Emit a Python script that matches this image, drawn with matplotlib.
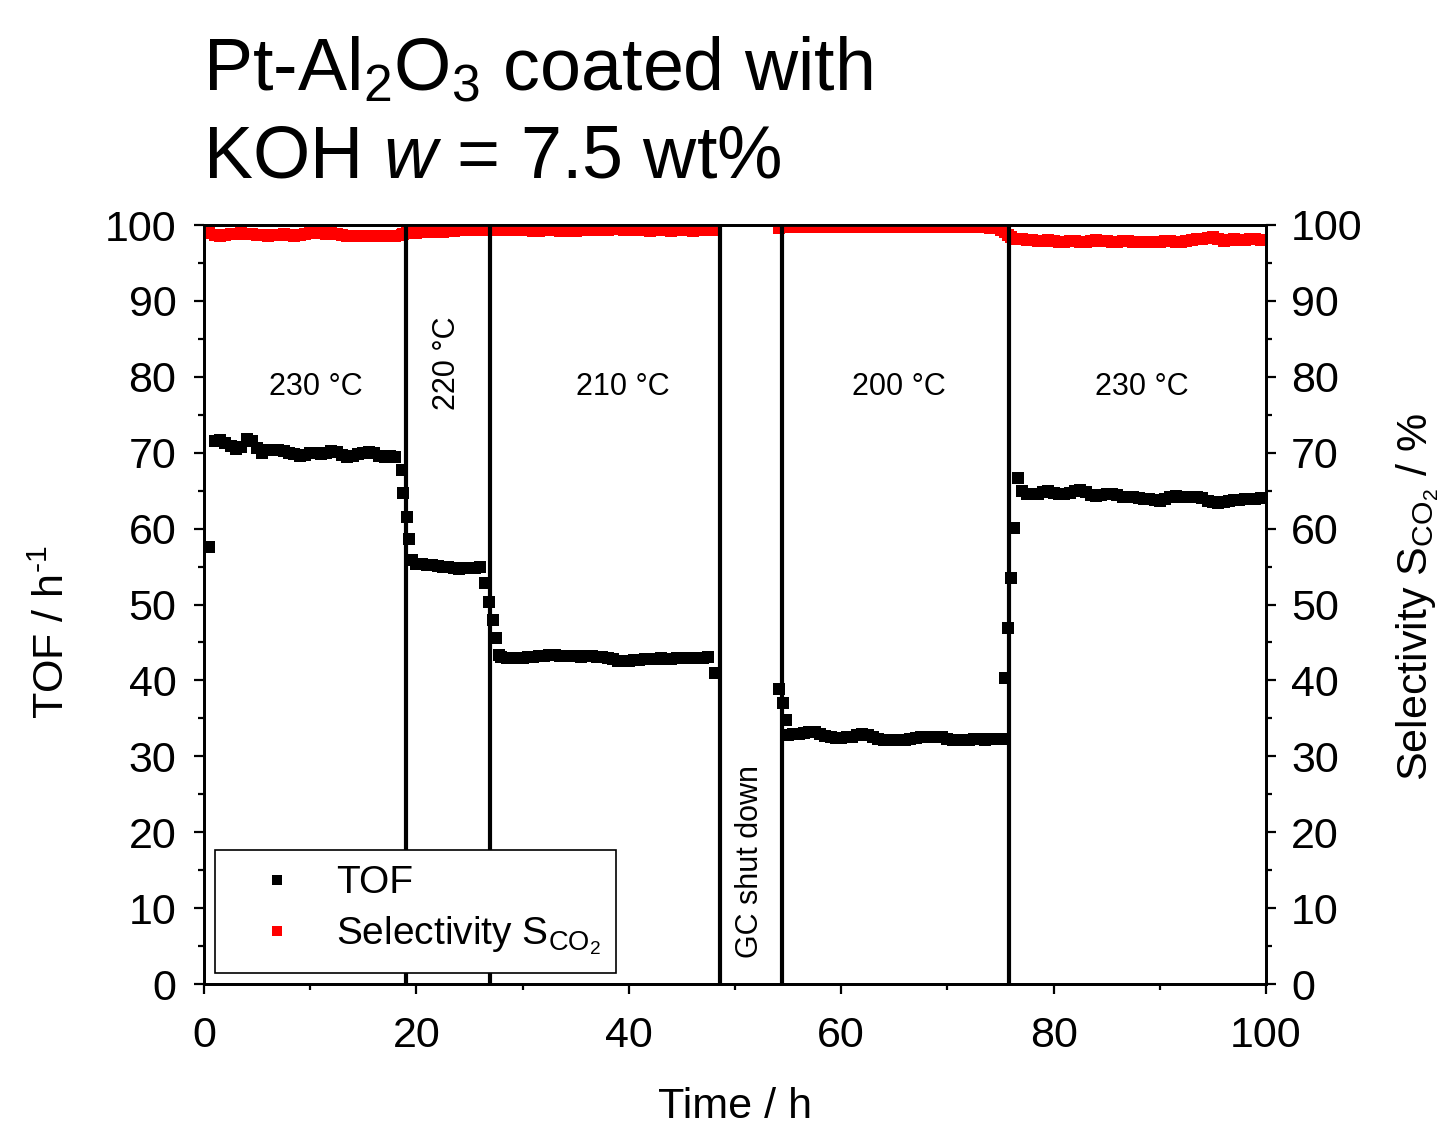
"""
TOF and CO2 selectivity over time for Pt-Al2O3 coated with KOH (w = 7.5 wt%)
"""

#imports
import numpy as np
import matplotlib
matplotlib.use("Agg")
import matplotlib.pyplot as plt

plt.rcParams['font.family'] = ['Liberation Sans', 'DejaVu Sans']
plt.rcParams['mathtext.fontset'] = 'custom'
plt.rcParams['mathtext.rm'] = 'Liberation Sans'
plt.rcParams['mathtext.it'] = 'Liberation Sans:italic'
plt.rcParams['mathtext.bf'] = 'Liberation Sans:bold'

#data (time in h, TOF in 1/h, selectivity in %)
#segment 1: 230 °C
time_1 = np.concatenate([[0.5], np.arange(1.0, 18.01, 0.5), [18.6, 18.7, 19.1, 19.3]])
tof_1 = [57.6,
         71.5, 71.7, 71.3, 70.9, 70.5, 70.8, 71.8, 71.5, 70.6, 70.0,
         70.3, 70.4, 70.3, 70.2, 70.0, 69.8, 69.6, 69.7, 70.0, 69.9,
         69.8, 70.0, 70.2, 70.1, 69.7, 69.5, 69.6, 69.8, 69.9, 70.1,
         70.0, 69.6, 69.4, 69.6, 69.5,
         67.7, 64.7, 61.5, 58.6]
sel_1 = [99.0,
         98.7, 98.6, 98.7, 98.8, 98.8, 98.9, 98.8, 98.8, 98.7, 98.7,
         98.6, 98.7, 98.7, 98.8, 98.7, 98.6, 98.7, 98.8, 98.9, 98.9,
         98.9, 98.8, 98.9, 98.8, 98.7, 98.6, 98.6, 98.5, 98.5, 98.6,
         98.5, 98.5, 98.5, 98.6, 98.5,
         98.7, 98.8, 98.9, 99.0]

#segment 2: 220 °C
time_2 = np.concatenate([[19.6], np.arange(20.0, 26.01, 0.5), [26.5, 26.8, 27.2, 27.5]])
tof_2 = [55.8,
         55.4, 55.3, 55.2, 55.2, 55.1, 55.0, 54.9, 54.8, 54.7, 54.8, 54.8, 54.8, 54.9,
         52.8, 50.3, 48.0, 45.6]
sel_2 = [99.1,
         99.0, 99.1, 99.1, 99.1, 99.2, 99.1, 99.2, 99.2, 99.3, 99.3, 99.4, 99.4, 99.4,
         99.4, 99.4, 99.3, 99.3]

#segment 3: 210 °C
time_3 = np.concatenate([[27.8], np.arange(28.0, 47.51, 0.5), [48.1]])
tof_3 = [43.4,
         43.1, 43.0, 42.9, 42.9, 43.0, 43.1, 43.1, 43.2, 43.2, 43.3,
         43.3, 43.2, 43.2, 43.2, 43.2, 43.1, 43.2, 43.2, 43.1, 43.1,
         43.0, 42.8, 42.6, 42.5, 42.6, 42.7, 42.7, 42.8, 42.8, 42.8,
         42.9, 42.8, 42.8, 42.9, 42.9, 42.9, 43.0, 42.9, 43.0, 43.1,
         41.0]
sel_3 = [99.3,
         99.3, 99.3, 99.4, 99.3, 99.3, 99.3, 99.2, 99.2, 99.3, 99.3,
         99.3, 99.2, 99.3, 99.2, 99.2, 99.3, 99.3, 99.3, 99.3, 99.4,
         99.4, 99.5, 99.6, 99.4, 99.3, 99.3, 99.3, 99.3, 99.2, 99.3,
         99.3, 99.3, 99.2, 99.3, 99.3, 99.3, 99.2, 99.3, 99.3, 99.3,
         99.3]

#segment 4: 200 °C (after GC shut down)
time_4 = np.concatenate([[54.1, 54.5, 54.8], np.arange(55.0, 75.01, 0.5)])
tof_4 = [38.9, 37.0, 34.8,
         32.8, 32.9, 33.0, 33.1, 33.2, 33.2, 33.0, 32.7, 32.5, 32.4,
         32.4, 32.5, 32.6, 32.8, 32.9, 32.8, 32.5, 32.3, 32.2, 32.2,
         32.1, 32.1, 32.2, 32.3, 32.4, 32.5, 32.6, 32.5, 32.6, 32.5,
         32.3, 32.1, 32.1, 32.1, 32.2, 32.3, 32.3, 32.2, 32.3, 32.3,
         32.3]
sel_4 = [99.6, 99.7, 99.7,
         99.8, 99.8, 99.7, 99.8, 99.8, 99.7, 99.7, 99.8, 99.8, 99.7,
         99.7, 99.8, 99.8, 99.7, 99.7, 99.8, 99.8, 99.7, 99.7, 99.8,
         99.8, 99.7, 99.7, 99.7, 99.8, 99.8, 99.7, 99.7, 99.8, 99.7,
         99.7, 99.8, 99.7, 99.7, 99.8, 99.7, 99.7, 99.7, 99.6, 99.6,
         99.4]

#segment 5: 230 °C
time_5 = np.concatenate([[75.4, 75.7, 76.0, 76.3, 76.6], np.arange(77.0, 99.51, 0.5)])
tof_5 = [40.3, 46.9, 53.5, 60.1, 66.7,
         65.0, 64.6, 64.5, 64.6, 64.8, 64.9, 64.7, 64.5, 64.5, 64.7,
         64.9, 65.1, 64.8, 64.4, 64.3, 64.4, 64.5, 64.5, 64.4, 64.2,
         64.1, 64.1, 64.0, 63.9, 63.9, 63.8, 63.7, 63.9, 64.2, 64.3,
         64.2, 64.1, 64.1, 64.1, 64.0, 63.7, 63.5, 63.4, 63.5, 63.7,
         63.8, 63.8, 63.9, 63.9, 63.9, 64.0]
sel_5 = [99.1, 98.7, 98.4, 98.2, 98.1,
         98.1, 98.0, 98.0, 97.9, 97.9, 98.0, 97.9, 97.8, 97.8, 97.9,
         97.9, 97.8, 97.8, 97.9, 98.0, 97.9, 97.9, 97.8, 97.8, 97.9,
         97.9, 97.8, 97.8, 97.8, 97.7, 97.8, 97.8, 97.9, 97.9, 97.8,
         97.8, 97.9, 98.0, 98.1, 98.2, 98.3, 98.4, 98.2, 97.9, 98.0,
         98.1, 98.0, 98.0, 98.1, 98.1, 98.0]

time_all = np.concatenate([time_1, time_2, time_3, time_4, time_5])
tof_all = np.concatenate([tof_1, tof_2, tof_3, tof_4, tof_5])
sel_all = np.concatenate([sel_1, sel_2, sel_3, sel_4, sel_5])

#temperature changes (vertical lines) and labels
change_times = [19.0, 26.9, 48.6, 54.4, 75.8]
temp_labels = ["230 °C", "220 °C", "210 °C", "200 °C", "230 °C"]
temp_label_x = [10.5, 22.9, 39.4, 65.4, 88.3]
temp_label_rot = [0, 90, 0, 0, 0]

#figure
fig = plt.figure(figsize=(14.4, 11.25), dpi=100)
ax = fig.add_axes([0.1417, 0.1253, 0.7375, 0.6747])
ax2 = ax.twinx()

#data
line_tof, = ax.plot(time_all, tof_all, linestyle="none", marker="s", markersize=9,
                    markeredgewidth=0, color="black", label="TOF", zorder=2)
line_sel, = ax2.plot(time_all, sel_all, linestyle="none", marker="s", markersize=9,
                     markeredgewidth=0, color="#ff0000", label=r"Selectivity S$_{\mathrm{CO_2}}$", zorder=2)

#vertical lines
for t in change_times:
    ax2.axvline(t, color="black", linewidth=3.0, zorder=3)

#temperature labels
for x, txt, rot in zip(temp_label_x, temp_labels, temp_label_rot):
    y = 81.8 if rot == 90 else 78.6
    ax2.text(x, y, txt, rotation=rot, ha="center", va="center", fontsize=22, zorder=4)
ax2.text(51.4, 16.1, "GC shut down", rotation=90, ha="center", va="center", fontsize=22, zorder=4)

#axes
for a in (ax, ax2):
    a.set_xlim(0, 100)
    a.set_ylim(0, 100)
    for s in a.spines.values():
        s.set_linewidth(2.0)

ax.set_xticks(np.arange(0, 101, 20))
ax.set_xticks(np.arange(10, 100, 20), minor=True)
ax.set_yticks(np.arange(0, 101, 10))
ax.set_yticks(np.arange(5, 100, 10), minor=True)
ax2.set_yticks(np.arange(0, 101, 10))
ax2.set_yticks(np.arange(5, 100, 10), minor=True)

ax.tick_params(axis="both", which="major", direction="out", length=7, width=1.6, labelsize=31, pad=13)
ax.tick_params(axis="both", which="minor", direction="out", length=4, width=1.6)
ax.tick_params(axis="x", which="major", pad=16)
ax2.tick_params(axis="y", which="major", direction="out", length=7, width=1.6, labelsize=31, pad=11)
ax2.tick_params(axis="y", which="minor", direction="out", length=4, width=1.6)

ax.set_xlabel("Time / h", fontsize=31)
ax.xaxis.set_label_coords(0.5, -0.136)
ax.set_ylabel(r"TOF / h$^{\text{-1}}$", fontsize=31)
ax.yaxis.set_label_coords(-0.123, 0.464)
ax2.set_ylabel(r"Selectivity S$_{\mathrm{CO_2}}$ / %", fontsize=31)
ax2.yaxis.set_label_coords(1.121, 0.51)

#legend
leg = ax2.legend(handles=[line_tof, line_sel], loc="lower left", bbox_to_anchor=(0.0104, 0.0145),
                 fontsize=28, frameon=True, fancybox=False, edgecolor="black", framealpha=1,
                 borderpad=0.4, handlelength=2.4, handletextpad=0.3, labelspacing=0.35,
                 borderaxespad=0, markerscale=0.8)
leg.get_frame().set_linewidth(1.2)
leg.set_zorder(10)

#title
fig.text(0.141, 0.92, r"Pt-Al$_2$O$_3$ coated with", fontsize=53, ha="left", va="baseline")
fig.text(0.141, 0.8418, r"KOH $w$ = 7.5 wt%", fontsize=53, ha="left", va="baseline")

fig.savefig("out.png", dpi=100)
